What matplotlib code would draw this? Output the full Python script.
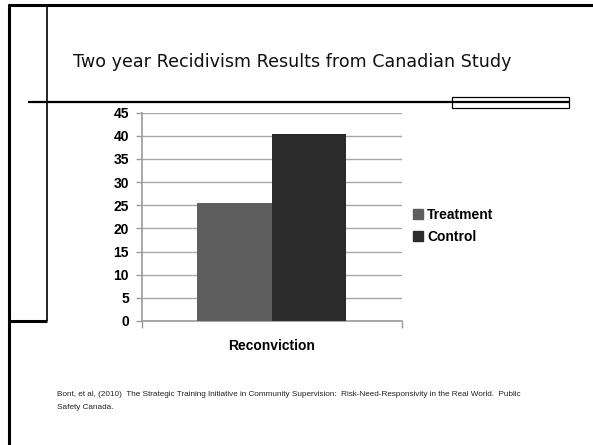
import matplotlib
matplotlib.use("Agg")
import matplotlib.pyplot as plt
from matplotlib.lines import Line2D
from matplotlib.patches import Rectangle, Patch

# ---- data ----
categories = ["Reconviction"]
series_names = ["Treatment", "Control"]
treatment = [25.4]
control = [40.5]
yticks = [0, 5, 10, 15, 20, 25, 30, 35, 40, 45]
title = "Two year Recidivism Results from Canadian Study"
citation = ("Bont, et al, (2010)  The Strategic Training Initiative in Community Supervision:  "
            "Risk-Need-Responsivity in the Real World.  Public\nSafety Canada.")

W, H = 593, 445
fig = plt.figure(figsize=(W / 100, H / 100), dpi=100)
fig.patch.set_facecolor("white")

def fx(x):
    return x / W

def fy(y):
    return 1 - y / H

def hline(x0, x1, y, lw, color="black"):
    fig.add_artist(Line2D([fx(x0), fx(x1)], [fy(y), fy(y)], color=color, lw=lw,
                          transform=fig.transFigure, solid_capstyle="butt"))

def vline(x, y0, y1, lw, color="black"):
    fig.add_artist(Line2D([fx(x), fx(x)], [fy(y0), fy(y1)], color=color, lw=lw,
                          transform=fig.transFigure, solid_capstyle="butt"))

# slide decoration
vline(9, 4, 445, 2.2)
hline(8, 593, 5, 2.2)
vline(47, 5, 321, 1.2)
hline(8, 47, 321, 2.2)
hline(28, 569, 101.5, 1.6)
fig.add_artist(Rectangle((fx(452), fy(108)), fx(569) - fx(452), fy(97) - fy(108),
                         transform=fig.transFigure, fill=False, ec="black", lw=0.9))

# chart
left, right = 141.5, 401.5
top, bottom = 112.7, 321
ax = fig.add_axes([fx(left), fy(bottom), fx(right) - fx(left), fy(top) - fy(bottom)])
x = [0]
w = 0.288
c_t, c_c = "#5e5e5e", "#2b2b2b"
ax.bar([i - w / 2 for i in x], treatment, width=w, color=c_t, zorder=3, label=series_names[0])
ax.bar([i + w / 2 for i in x], control, width=w, color=c_c, zorder=3, label=series_names[1])
ax.set_xlim(-0.5, 0.5)
ax.set_ylim(0, 45)
ax.set_yticks(yticks)
ax.set_xticks(x)
ax.set_xticklabels(categories)
ax.set_xticks([-0.5, 0.5], minor=True)
ax.yaxis.grid(True, color="#a8a8a8", lw=1.0, zorder=0)
ax.set_axisbelow(True)
for s in ["top", "right"]:
    ax.spines[s].set_visible(False)
for s in ["left", "bottom"]:
    ax.spines[s].set_color("#9a9a9a")
    ax.spines[s].set_linewidth(1.2)
ax.tick_params(axis="y", length=4, color="#9a9a9a", width=1, pad=5)
ax.tick_params(axis="x", which="major", length=0, pad=13)
ax.tick_params(axis="x", which="minor", length=5, color="#9a9a9a", width=1)

bold_fam = ["Liberation Sans", "DejaVu Sans"]
for lab in ax.get_yticklabels() + ax.get_xticklabels():
    lab.set_fontfamily(bold_fam)
    lab.set_fontweight("bold")
    lab.set_fontsize(10)
    lab.set_color("black")

handles = [Patch(color=c_t), Patch(color=c_c)]
leg = ax.legend(handles, series_names, loc="center left", bbox_to_anchor=(fx(413), fy(226)),
                bbox_transform=fig.transFigure, frameon=False,
                prop=dict(family=bold_fam, weight="bold", size=10),
                handlelength=0.7, handleheight=0.7, handletextpad=0.3, labelspacing=0.55,
                borderaxespad=0, borderpad=0)

fig.text(fx(73), fy(62), title, fontsize=12.6, family="DejaVu Sans", va="center", ha="left",
         color="#111111")
fig.text(fx(57), fy(401), citation, fontsize=5.9, family="Liberation Sans", va="center",
         ha="left", linespacing=2.1, color="#222222")

fig.savefig("out.png", dpi=100, facecolor="white")
